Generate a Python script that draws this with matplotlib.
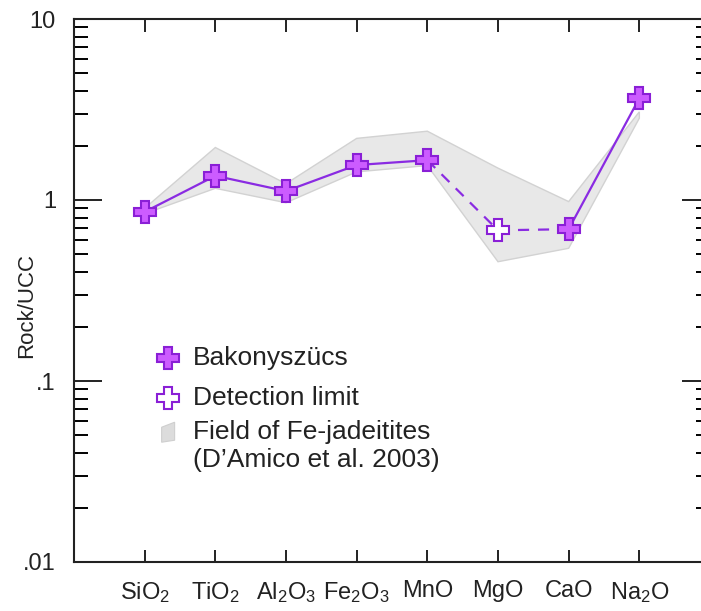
import matplotlib
matplotlib.use("Agg")
import matplotlib.pyplot as plt
from matplotlib.patches import Polygon
import numpy as np

plt.rcParams['font.family'] = ['Liberation Sans', 'DejaVu Sans']
plt.rcParams['mathtext.fontset'] = 'custom'
plt.rcParams['mathtext.rm'] = 'Liberation Sans'
plt.rcParams['mathtext.it'] = 'Liberation Sans'

# ---- data ----
categories = ['SiO$_2$', 'TiO$_2$', 'Al$_2$O$_3$', 'Fe$_2$O$_3$', 'MnO', 'MgO', 'CaO', 'Na$_2$O']
bakony = [0.86, 1.36, 1.12, 1.56, 1.66, 0.68, 0.69, 3.65]
below_detection = [False, False, False, False, False, True, False, False]
field_upper = [0.90, 1.95, 1.23, 2.19, 2.40, 1.50, 0.98, 3.07]
field_lower = [0.84, 1.16, 0.966, 1.43, 1.55, 0.456, 0.541, 2.83]
ytick_vals = [0.01, 0.1, 1, 10]
ytick_labels = ['.01', '.1', '1', '10']

FILL = '#cc5cff'
EDGE = '#8a1fd6'
LINE = '#8a2be2'
FIELD = '#e8e8e8'
FIELD_EDGE = '#d2d2d2'

fig = plt.figure(figsize=(7.01, 6.11), dpi=100)
ax = fig.add_axes([74/701, (611-562)/611, (710-74)/701, (562-19)/611])
ax.set_yscale('log')
ax.set_ylim(0.01, 10)
ax.set_xlim(-1, 8)

x = np.arange(len(categories))

# field polygon
poly_x = list(x) + list(x[::-1])
poly_y = list(field_upper) + list(field_lower[::-1])
ax.fill(poly_x, poly_y, facecolor=FIELD, edgecolor=FIELD_EDGE, lw=1.0, zorder=1)

# line segments (dashed where either end is a detection limit)
for i in range(len(x) - 1):
    dashed = below_detection[i] or below_detection[i + 1]
    ax.plot(x[i:i + 2], bakony[i:i + 2], color=LINE, lw=1.6,
            ls=(0, (5, 4)) if dashed else '-', zorder=2)

# markers
for xi, yi, det in zip(x, bakony, below_detection):
    ax.plot([xi], [yi], marker='P', ms=16, mew=1.5, mec=EDGE,
            mfc='white' if det else FILL, ls='none', zorder=3)

# axes styling
for s in ax.spines.values():
    s.set_linewidth(1.5)
    s.set_color('#222222')
ax.set_yticks(ytick_vals)
ax.set_yticklabels(ytick_labels)
ax.set_xticks(x)
ax.set_xticklabels(categories)
ax.tick_params(axis='y', which='major', direction='in', length=20, width=1.4,
               left=True, right=True, labelsize=17, pad=13, colors='#222222')
ax.tick_params(axis='y', which='minor', direction='in', length=10, width=1.4,
               left=True, right=True)
ax.tick_params(axis='x', which='major', direction='in', length=9, width=1.4,
               top=True, bottom=True, labelsize=17, pad=13, colors='#222222')
ax.yaxis.set_minor_formatter(matplotlib.ticker.NullFormatter())
ax.set_ylabel('Rock/UCC', fontsize=16, color='#222222', va='center')
ax.yaxis.set_label_coords(-0.074, 0.473)

# manual legend
lx_m, lx_t = 0.148, 0.187
ax.plot([lx_m], [0.376], transform=ax.transAxes, marker='P', ms=16, mew=1.5,
        mec=EDGE, mfc=FILL, ls='none', clip_on=False)
ax.text(lx_t, 0.376, 'Bakonyszücs', transform=ax.transAxes, fontsize=19,
        va='center', ha='left', color='#222222')
ax.plot([lx_m], [0.302], transform=ax.transAxes, marker='P', ms=16, mew=1.5,
        mec=EDGE, mfc='white', ls='none', clip_on=False)
ax.text(lx_t, 0.302, 'Detection limit', transform=ax.transAxes, fontsize=19,
        va='center', ha='left', color='#222222')
w = 13/636
h = 20/543
cx, cy = lx_m, 0.239
pts = [(cx - w/2, cy - h/2), (cx - w/2, cy + h/4), (cx + w/2, cy + h/2), (cx + w/2, cy - h/2 + 2/543)]
ax.add_patch(Polygon(pts, closed=True, transform=ax.transAxes, facecolor='#dcdcdc',
                     edgecolor='#cfcfcf', lw=0.8))
ax.text(lx_t, 0.239, 'Field of Fe-jadeitites', transform=ax.transAxes, fontsize=19,
        va='center', ha='left', color='#222222')
ax.text(lx_t, 0.188, '(D\u2019Amico et al. 2003)', transform=ax.transAxes, fontsize=19,
        va='center', ha='left', color='#222222')

fig.savefig('out.png', dpi=100)
